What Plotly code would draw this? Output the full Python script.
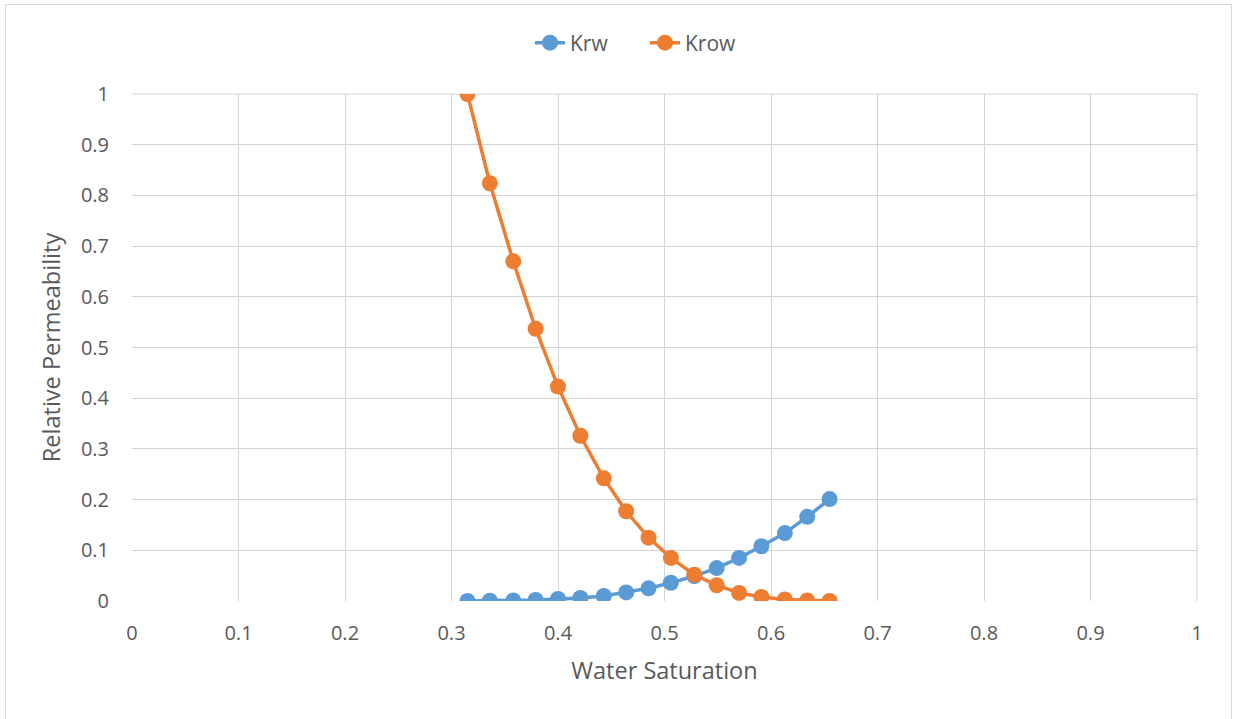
import plotly.graph_objects as go

sw = [0.315, 0.336, 0.358, 0.379, 0.400, 0.421, 0.443, 0.464, 0.485,
      0.506, 0.528, 0.549, 0.570, 0.591, 0.613, 0.634, 0.655]
krw = [0.0, 0.0005, 0.001, 0.002, 0.004, 0.006, 0.010, 0.017, 0.025,
       0.036, 0.049, 0.065, 0.085, 0.108, 0.134, 0.166, 0.201]
krow = [1.0, 0.824, 0.670, 0.537, 0.423, 0.326, 0.242, 0.177, 0.125,
        0.085, 0.052, 0.031, 0.016, 0.008, 0.003, 0.001, 0.0]
x_ticks = [0, 0.1, 0.2, 0.3, 0.4, 0.5, 0.6, 0.7, 0.8, 0.9, 1]
y_ticks = [0, 0.1, 0.2, 0.3, 0.4, 0.5, 0.6, 0.7, 0.8, 0.9, 1]

FONT = "Open Sans, sans-serif"
TXT = "#595959"
GRID = "#d4d4d4"

fig = go.Figure()
fig.add_trace(go.Scatter(x=sw, y=krw, name="Krw", mode="lines+markers",
                         line=dict(color="#5B9BD5", width=3.5),
                         marker=dict(size=16, color="#5B9BD5")))
fig.add_trace(go.Scatter(x=sw, y=krow, name="Krow", mode="lines+markers",
                         line=dict(color="#ED7D31", width=3.5),
                         marker=dict(size=16, color="#ED7D31")))

L, R, T, B = 132, 36, 94, 118
W, H = 1233, 719
pw, ph = W - L - R, H - T - B

def px(xp):
    return (xp - L) / pw

def py(yp):
    return (H - B - yp) / ph

fig.update_layout(
    width=W, height=H,
    margin=dict(l=L, r=R, t=T, b=B, autoexpand=False),
    paper_bgcolor="white", plot_bgcolor="white",
    font=dict(family=FONT, color=TXT, size=20),
    showlegend=True,
    legend=dict(orientation="h", x=px(530), y=py(43), xanchor="left",
                yanchor="middle", font=dict(size=21, color=TXT),
                bgcolor="rgba(0,0,0,0)", itemwidth=30, entrywidth=70,
                entrywidthmode="pixels"),
    xaxis=dict(range=[0, 1], tickvals=x_ticks, ticktext=[f"{v:g}" for v in x_ticks],
               showgrid=True, gridcolor=GRID, gridwidth=1.2, zeroline=False,
               showline=False, ticks="", ticklabelstandoff=18,
               tickfont=dict(size=20, color=TXT),
               title=dict(text="Water Saturation", font=dict(size=23.5, color=TXT),
                          standoff=17)),
    yaxis=dict(range=[0, 1], tickvals=y_ticks, ticktext=[f"{v:g}" for v in y_ticks],
               showgrid=True, gridcolor=GRID, gridwidth=1.2, zeroline=False,
               showline=False, ticks="", ticklabelstandoff=22,
               tickfont=dict(size=20, color=TXT),
               title=dict(text="Relative Permeability", font=dict(size=23.5, color=TXT),
                          standoff=13)),
    shapes=[
        dict(type="rect", xref="paper", yref="paper",
             x0=px(5.5), x1=px(1231.5), y0=py(722), y1=py(4.5),
             line=dict(color="#d9d9d9", width=1), fillcolor="rgba(0,0,0,0)",
             layer="below"),
        dict(type="line", xref="paper", yref="paper",
             x0=1, x1=1, y0=0, y1=1, line=dict(color=GRID, width=1.2), layer="below"),
        dict(type="line", xref="paper", yref="paper",
             x0=0, x1=1, y0=1, y1=1, line=dict(color=GRID, width=1.2), layer="below"),
    ],
)

fig.write_html("out.html", config={"displayModeBar": False},
               post_script="document.body.style.margin='0';document.body.style.overflow='hidden';")
